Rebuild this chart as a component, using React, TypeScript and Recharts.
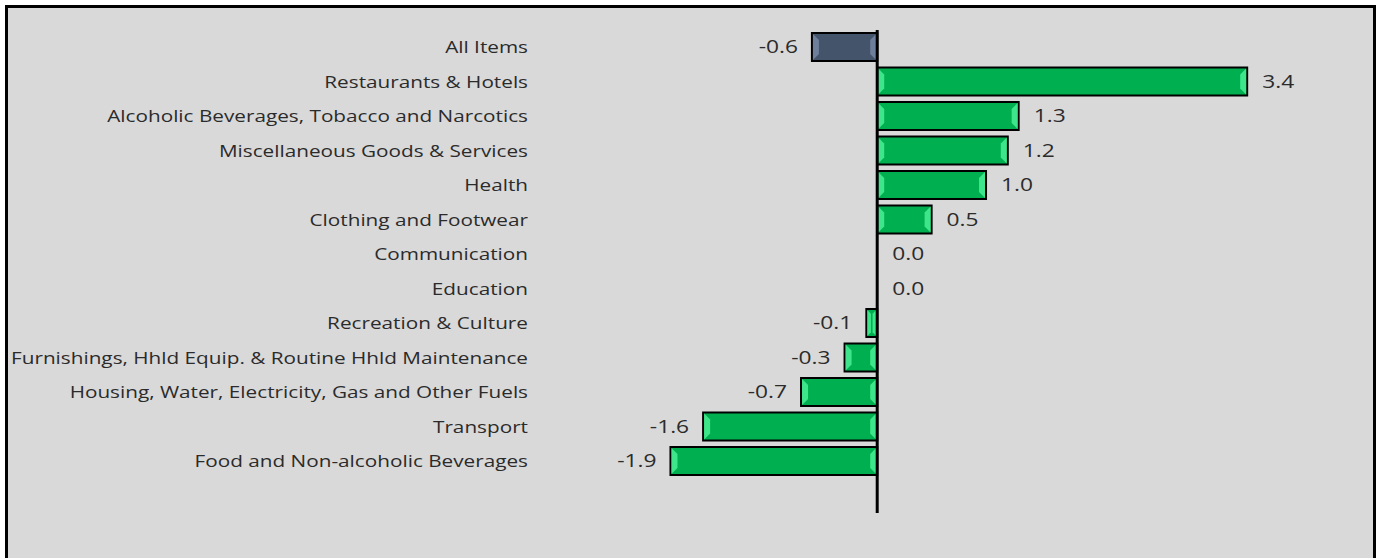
import React from 'react';
import { BarChart, Bar, XAxis, YAxis, Cell, LabelList, ReferenceLine } from 'recharts';

const categories = [
  'All Items',
  'Restaurants & Hotels',
  'Alcoholic Beverages, Tobacco and Narcotics',
  'Miscellaneous Goods & Services',
  'Health',
  'Clothing and Footwear',
  'Communication',
  'Education',
  'Recreation & Culture',
  'Furnishings, Hhld Equip. & Routine Hhld Maintenance',
  'Housing, Water, Electricity, Gas and Other Fuels',
  'Transport',
  'Food and Non-alcoholic Beverages',
  '',
];

const changes: (number | null)[] = [-0.6, 3.4, 1.3, 1.2, 1.0, 0.5, 0.0, 0.0, -0.1, -0.3, -0.7, -1.6, -1.9, null];

const data = categories.map((name, i) => ({ name, value: changes[i] }));

const FONT = '"Open Sans", sans-serif';
const TEXT = '#2b2b2b';
// the original text is rendered wide, so stretch it horizontally
const STRETCH = 1.22;

const BevelBar = (props: any) => {
  const { x, y, width, height, fill, bevel } = props;
  if (!width || Math.abs(width) < 0.5) return null;
  const l = Math.min(x, x + width);
  const r = Math.max(x, x + width);
  const t = y;
  const b = y + height;
  const bw = Math.min(6, (r - l) / 3);
  return (
    <g>
      <rect x={l} y={t} width={r - l} height={height} fill={fill} stroke="#000" strokeWidth={2} />
      <polygon
        points={`${l + 1},${t + 1} ${l + 1 + bw},${t + 1 + bw} ${l + 1 + bw},${b - 1 - bw} ${l + 1},${b - 1}`}
        fill={bevel}
      />
      <polygon
        points={`${r - 1},${t + 1} ${r - 1 - bw},${t + 1 + bw} ${r - 1 - bw},${b - 1 - bw} ${r - 1},${b - 1}`}
        fill={bevel}
      />
    </g>
  );
};

const CategoryTick = (props: any) => {
  const { x, y, payload } = props;
  return (
    <g transform={`translate(${x},${y}) scale(${STRETCH},1)`}>
      <text x={0} y={0} dy="0.35em" textAnchor="end" fill={TEXT} fontSize={17} fontFamily={FONT}>
        {payload.value}
      </text>
    </g>
  );
};

const ValueLabel = (props: any) => {
  const { x, y, width, height, value } = props;
  if (value === null || value === undefined) return null;
  const l = Math.min(x, x + width);
  const r = Math.max(x, x + width);
  const cy = y + height / 2;
  const neg = value < 0;
  return (
    <g transform={`translate(${neg ? l - 14 : r + 15},${cy}) scale(${STRETCH + 0.08},1)`}>
      <text x={0} y={0} dy="0.35em" textAnchor={neg ? 'end' : 'start'} fill={TEXT} fontSize={17.5} fontFamily={FONT}>
        {value.toFixed(1)}
      </text>
    </g>
  );
};

export default function App() {
  return (
    <div
      style={{
        position: 'absolute',
        left: 5,
        top: 5,
        width: 1365,
        height: 560,
        border: '3px solid #000',
        background: '#d9d9d9',
      }}
    >
      <BarChart
        width={1365}
        height={550}
        data={data}
        layout="vertical"
        margin={{ top: 22, right: 17, bottom: 45, left: 0 }}
        barSize={28}
      >
        <XAxis type="number" domain={[-3.2, 4.4]} hide />
        <YAxis
          type="category"
          dataKey="name"
          width={521}
          axisLine={false}
          tickLine={false}
          tickSize={0}
          tickMargin={1}
          interval={0}
          tick={<CategoryTick />}
        />
        <Bar
          dataKey="value"
          isAnimationActive={false}
          shape={(p: any) => (
            <BevelBar {...p} bevel={p.index === 0 ? '#6d7f9b' : '#3fe58a'} />
          )}
        >
          {data.map((d, i) => (
            <Cell key={d.name + i} fill={i === 0 ? '#44546a' : '#00b050'} />
          ))}
          <LabelList dataKey="value" content={<ValueLabel />} />
        </Bar>
        <ReferenceLine x={0} stroke="#000" strokeWidth={3} />
      </BarChart>
    </div>
  );
}
